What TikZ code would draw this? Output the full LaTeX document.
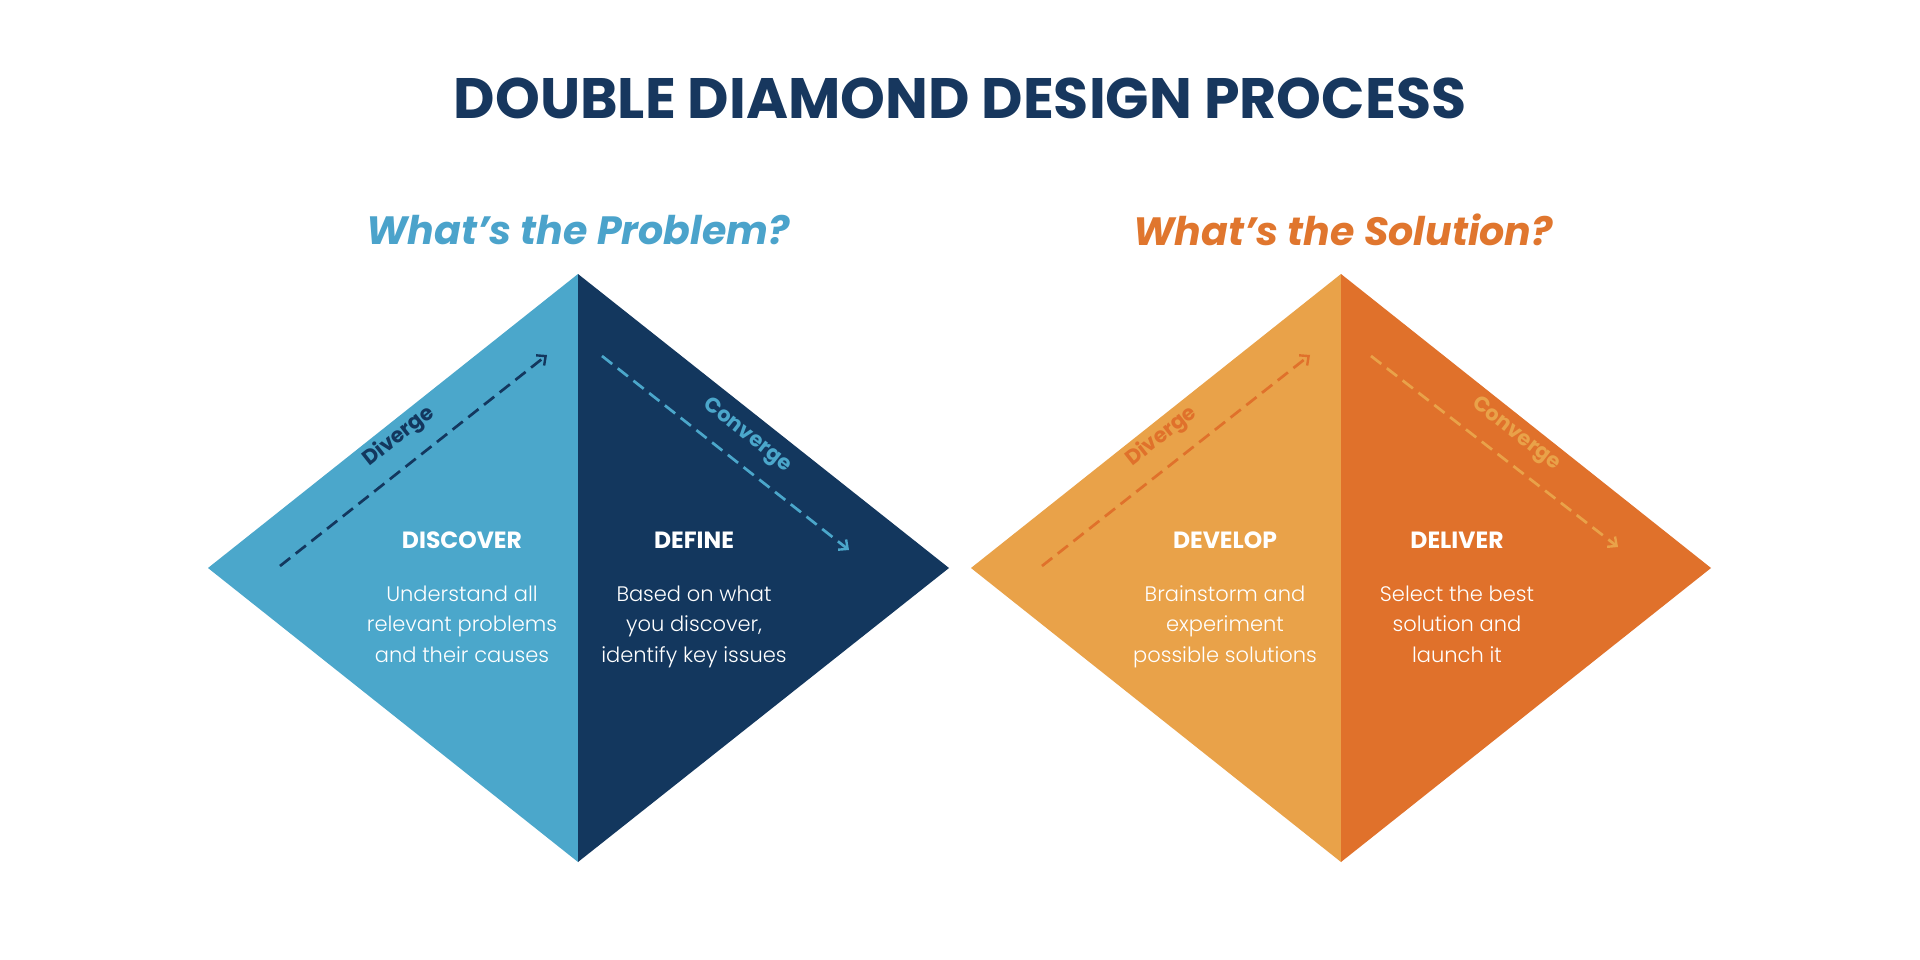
\documentclass[tikz,border=0pt]{standalone}
\usepackage{fontspec}
\setmainfont{Poppins}
\newfontfamily\popl{Poppins Light}
\usetikzlibrary{arrows.meta}
\definecolor{lblue}{HTML}{4BA7CB}
\definecolor{navy}{HTML}{13375E}
\definecolor{tnavy}{HTML}{17375E}
\definecolor{lorange}{HTML}{E9A249}
\definecolor{dorange}{HTML}{E0712B}
\definecolor{subblue}{HTML}{4BA3CB}
\definecolor{suborange}{HTML}{E0762E}
\tikzset{
  title/.style={inner sep=0pt, text=tnavy, font=\fontsize{57}{60}\selectfont\bfseries},
  subtitle/.style={inner sep=0pt, font=\fontsize{39.5}{42}\selectfont\bfseries\itshape},
  phase/.style={inner sep=0pt, text=white, font=\fontsize{23.5}{26}\selectfont\bfseries},
  body/.style={inner sep=0pt, anchor=north, align=center, text=white, font=\popl\fontsize{21}{30.5}\selectfont},
  flow/.style={dashed, dash pattern=on 13pt off 7pt, line width=2.7pt, -{Straight Barb[length=7pt,width=13pt,line width=2.4pt]}},
  flowlbl/.style={inner sep=0pt, sloped, font=\fontsize{21}{24}\selectfont\bfseries},
}
\begin{document}
\begin{tikzpicture}[x=1pt,y=-1pt]
\useasboundingbox (0,0) rectangle (1920,960);
\fill[white] (0,0) rectangle (1920,960);

% left diamond
\coordinate (aL) at (208,568);
\coordinate (aT) at (578,274);
\coordinate (aR) at (949,568);
\coordinate (aB) at (578,862);
\fill[lblue] (aL) -- (aT) -- (aB) -- cycle;
\fill[navy] (aT) -- (aR) -- (aB) -- cycle;

% right diamond
\coordinate (bL) at (971,568);
\coordinate (bT) at (1341,274);
\coordinate (bR) at (1711,568);
\coordinate (bB) at (1341,862);
\fill[lorange] (bL) -- (bT) -- (bB) -- cycle;
\fill[dorange] (bT) -- (bR) -- (bB) -- cycle;

\node[title] (ttl) at (960,98) {DOUBLE DIAMOND DESIGN PROCESS};
\node[subtitle, text=subblue] (q1) at (578,230) {What’s the Problem?};
\node[subtitle, text=suborange] (q2) at (1343,230) {What’s the Solution?};

% arrows
\coordinate (d1s) at (280,566);
\coordinate (d1e) at (547,355);
\coordinate (c1s) at (602,356);
\coordinate (c1e) at (849,550);
\coordinate (d2s) at (1042,566);
\coordinate (d2e) at (1310,355);
\coordinate (c2s) at (1371,356);
\coordinate (c2e) at (1618,547);

\draw[flow, navy] (d1s) -- (d1e) node[flowlbl, text=navy, pos=0.51, above=15pt] (dv1) {Diverge};
\draw[flow, lblue] (c1s) -- (c1e) node[flowlbl, text=lblue, pos=0.52, above=15pt] (cv1) {Converge};
\draw[flow, dorange] (d2s) -- (d2e) node[flowlbl, text=dorange, pos=0.51, above=15pt] (dv2) {Diverge};
\draw[flow, lorange] (c2s) -- (c2e) node[flowlbl, text=lorange, pos=0.52, above=15pt] (cv2) {Converge};

% phases
\node[phase] (p1) at (462,540) {DISCOVER};
\node[phase] (p2) at (694,540) {DEFINE};
\node[phase] (p3) at (1225,540) {DEVELOP};
\node[phase] (p4) at (1457,540) {DELIVER};

\node[body] (t1) at (462,579.6) {\strut Understand all\\relevant problems\\and their causes};
\node[body] (t2) at (694,579.6) {\strut Based on what\\you discover,\\identify key issues};
\node[body] (t3) at (1225,579.6) {\strut Brainstorm and\\experiment\\possible solutions};
\node[body] (t4) at (1457,579.6) {\strut Select the best\\solution and\\launch it};
\end{tikzpicture}
\end{document}
